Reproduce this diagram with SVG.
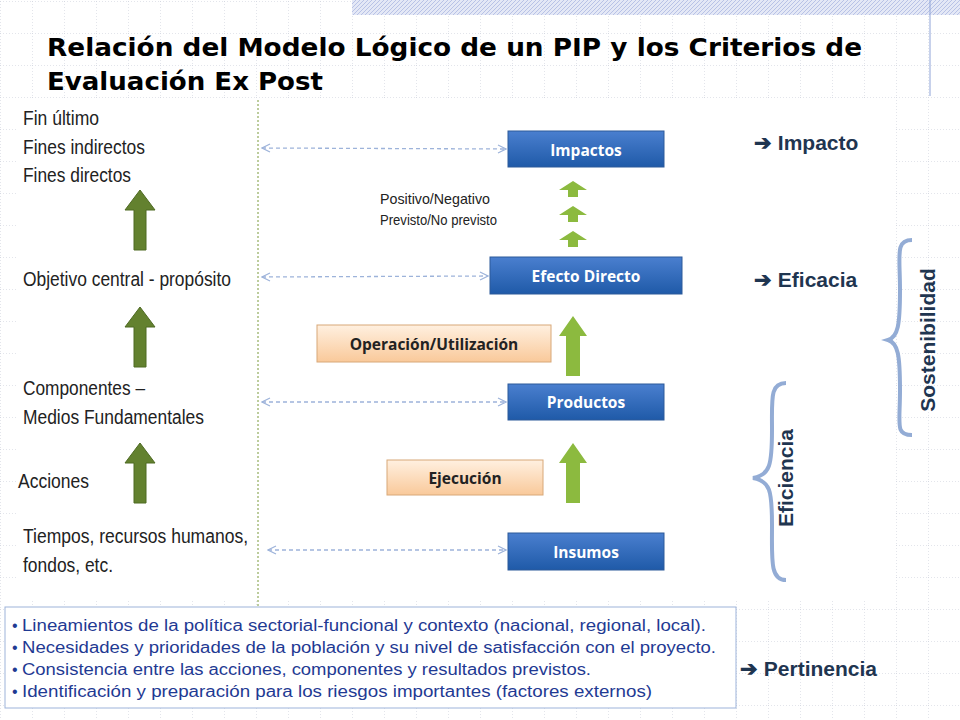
<svg xmlns="http://www.w3.org/2000/svg" width="960" height="720" viewBox="0 0 960 720">
<defs>
<pattern id="grid" width="32" height="32" patternUnits="userSpaceOnUse" x="0" y="1">
<path d="M0 0H32M0 0V32" fill="none" stroke="#c8ccd8" stroke-width="1" stroke-dasharray="1 2"/>
</pattern>
<pattern id="hatch" width="4" height="4" patternUnits="userSpaceOnUse">
<rect width="4" height="4" fill="#e4e8f6"/><path d="M0 4L4 0" stroke="#b8c2e6" stroke-width="1"/>
</pattern>
<linearGradient id="blue" x1="0" y1="0" x2="0" y2="1"><stop offset="0" stop-color="#4a7fcf"/><stop offset="1" stop-color="#1f5aa8"/></linearGradient>
<linearGradient id="orange" x1="0" y1="0" x2="0" y2="1"><stop offset="0" stop-color="#fff0e0"/><stop offset="1" stop-color="#f9c99a"/></linearGradient>
<marker id="open" viewBox="0 0 10 10" refX="9" refY="5" markerWidth="10" markerHeight="10" orient="auto-start-reverse" markerUnits="userSpaceOnUse"><path d="M1 1L9 5L1 9" fill="none" stroke="#9db3da" stroke-width="1.2"/></marker>
<path id="darr" d="M-6 60V20H-15L0 0L15 20H6V60Z" fill="#63812f" stroke="#4e6a22" stroke-width="1"/>
<path id="garr" d="M-7 60V20H-14L0 0L14 20H7V60Z" fill="#8cba3f"/>
<path id="sarr" d="M-5 16V9H-14L0 0L14 9H5V16Z" fill="#8cba3f"/>
</defs>
<style>
.lt{font-family:"Liberation Sans",Arial,sans-serif;font-size:20px;fill:#222}
.bx{font-family:"Open Sans","Liberation Sans",sans-serif;font-size:15.5px;font-weight:bold;fill:#fff;text-anchor:middle}
.ob{font-family:"Open Sans","Liberation Sans",sans-serif;font-size:15.5px;font-weight:bold;fill:#222;text-anchor:middle}
.cr{font-family:"Liberation Sans",Arial,sans-serif;font-size:21px;font-weight:bold;fill:#1f3550}
.bl{font-family:"Liberation Sans",Arial,sans-serif;font-size:16px;fill:#1f3a93}
.conn{stroke:#9db3da;stroke-width:1.3;stroke-dasharray:4 3;fill:none}
</style>
<rect width="960" height="720" fill="#fff"/>
<rect width="960" height="720" fill="url(#grid)"/>
<rect x="352" y="0" width="608" height="15" fill="url(#hatch)"/>
<line x1="930" y1="0" x2="930" y2="96" stroke="#8fa4d8" stroke-width="1"/>
<rect x="16" y="100" width="880" height="500" fill="#fff"/>
<g id="title" font-family="Verdana,'DejaVu Sans',sans-serif" font-size="24" font-weight="bold" fill="#000">
<text x="47" y="56" textLength="815" lengthAdjust="spacingAndGlyphs">Relación del Modelo Lógico de un PIP y  los Criterios de</text>
<text x="47" y="90" textLength="276" lengthAdjust="spacingAndGlyphs">Evaluación Ex Post</text>
</g>
<line x1="258" y1="100" x2="258" y2="606" stroke="#7a9a3a" stroke-width="1" stroke-dasharray="2 2"/>
<g id="left">
<text class="lt" x="23" y="125" textLength="76" lengthAdjust="spacingAndGlyphs">Fin último</text>
<text class="lt" x="23" y="154" textLength="122" lengthAdjust="spacingAndGlyphs">Fines indirectos</text>
<text class="lt" x="23" y="182" textLength="108" lengthAdjust="spacingAndGlyphs">Fines directos</text>
<text class="lt" x="23" y="286" textLength="208" lengthAdjust="spacingAndGlyphs">Objetivo central - propósito</text>
<text class="lt" x="23" y="395" textLength="122" lengthAdjust="spacingAndGlyphs">Componentes –</text>
<text class="lt" x="23" y="424" textLength="181" lengthAdjust="spacingAndGlyphs">Medios Fundamentales</text>
<text class="lt" x="18" y="488" textLength="71" lengthAdjust="spacingAndGlyphs">Acciones</text>
<text class="lt" x="23" y="543" textLength="225" lengthAdjust="spacingAndGlyphs">Tiempos, recursos humanos,</text>
<text class="lt" x="23" y="572" textLength="90" lengthAdjust="spacingAndGlyphs">fondos, etc.</text>
<use href="#darr" x="140" y="190"/>
<use href="#darr" x="140" y="307"/>
<use href="#darr" x="140" y="443"/>
</g>
<g id="connectors">
<line class="conn" x1="262" y1="148" x2="506" y2="149" marker-start="url(#open)" marker-end="url(#open)"/>
<line class="conn" x1="262" y1="277" x2="488" y2="276" marker-start="url(#open)" marker-end="url(#open)"/>
<line class="conn" x1="262" y1="402" x2="506" y2="402" marker-start="url(#open)" marker-end="url(#open)"/>
<line class="conn" x1="268" y1="550" x2="506" y2="550" marker-start="url(#open)" marker-end="url(#open)"/>
<use href="#sarr" x="573" y="181"/>
<use href="#sarr" x="573" y="206"/>
<use href="#sarr" x="573" y="231"/>
<use href="#garr" x="573" y="316"/>
<use href="#garr" x="573" y="443"/>
</g>
<g id="impactos"><rect x="508" y="131" width="156" height="36" fill="url(#blue)" stroke="#2c5a9a"/><text class="bx" x="586" y="156">Impactos</text></g>
<g id="efecto"><rect x="490" y="257" width="192" height="37" fill="url(#blue)" stroke="#2c5a9a"/><text class="bx" x="586" y="282">Efecto Directo</text></g>
<g id="productos"><rect x="508" y="384" width="156" height="36" fill="url(#blue)" stroke="#2c5a9a"/><text class="bx" x="586" y="408">Productos</text></g>
<g id="insumos"><rect x="508" y="533" width="156" height="37" fill="url(#blue)" stroke="#2c5a9a"/><text class="bx" x="586" y="558">Insumos</text></g>
<g id="operacion"><rect x="317" y="325" width="234" height="37" fill="url(#orange)" stroke="#d8a878"/><text class="ob" x="434" y="350">Operación/Utilización</text></g>
<g id="ejecucion"><rect x="387" y="460" width="156" height="35" fill="url(#orange)" stroke="#d8a878"/><text class="ob" x="465" y="484">Ejecución</text></g>
<g id="posneg" font-family="'Liberation Sans',Arial,sans-serif" font-size="14.5" fill="#222">
<text x="380" y="204" textLength="110" lengthAdjust="spacingAndGlyphs">Positivo/Negativo</text>
<text x="380" y="225" textLength="117" lengthAdjust="spacingAndGlyphs">Previsto/No previsto</text>
</g>
<g id="criterios">
<text class="cr" x="754" y="150">➔ Impacto</text>
<text class="cr" x="754" y="287">➔ Eficacia</text>
<text class="cr" x="740" y="676">➔ Pertinencia</text>
</g>
<g id="sostenibilidad">
<path d="M912 240C895 240 900 255 900 290C900 325 898 337 888 340C898 343 900 355 900 390C900 425 895 435 912 435" fill="none" stroke="#93acd5" stroke-width="4"/>
<text class="cr" transform="translate(935 340) rotate(-90)" text-anchor="middle" font-size="19">Sostenibilidad</text>
</g>
<g id="eficiencia">
<path d="M786 383C770 383 772 398 772 430C772 465 770 475 753 478C770 481 772 490 772 525C772 560 770 580 786 580" fill="none" stroke="#93acd5" stroke-width="4"/>
<text class="cr" transform="translate(793 478) rotate(-90)" text-anchor="middle" font-size="19">Eficiencia</text>
</g>
<g id="pertinencia-box">
<rect x="5" y="607" width="731" height="101" fill="#fff" stroke="#9db3da"/>
<text class="bl" x="12" y="631"><tspan>•</tspan><tspan x="22" textLength="684" lengthAdjust="spacingAndGlyphs">Lineamientos de la política sectorial-funcional y contexto (nacional, regional, local).</tspan></text>
<text class="bl" x="12" y="653"><tspan>•</tspan><tspan x="22" textLength="694" lengthAdjust="spacingAndGlyphs">Necesidades y prioridades de la población y su nivel de satisfacción con el proyecto.</tspan></text>
<text class="bl" x="12" y="675"><tspan>•</tspan><tspan x="22" textLength="569" lengthAdjust="spacingAndGlyphs">Consistencia entre las acciones, componentes y resultados previstos.</tspan></text>
<text class="bl" x="12" y="697"><tspan>•</tspan><tspan x="22" textLength="630" lengthAdjust="spacingAndGlyphs">Identificación y preparación para los riesgos importantes (factores externos)</tspan></text>
</g>
</svg>
